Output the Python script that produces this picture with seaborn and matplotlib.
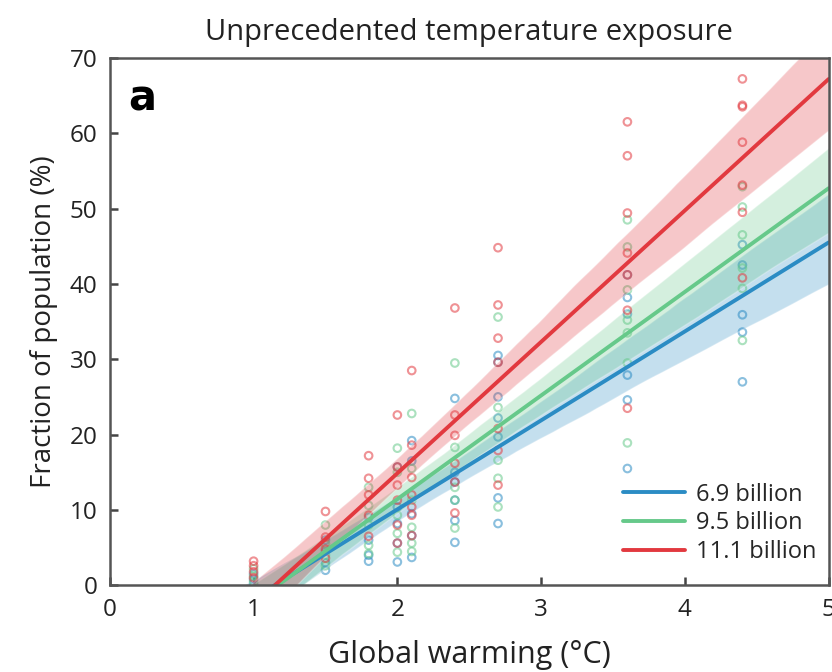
import numpy as np
import pandas as pd
import seaborn as sns
import matplotlib.pyplot as plt
from matplotlib.collections import PolyCollection

# warming levels (deg C) and fraction of population (%)
warming = [1.0, 1.5, 1.8, 2.0, 2.1, 2.4, 2.7, 3.6, 4.4]

pop_69 = [  # 6.9 billion
    [1.5, 0.8, 0.2],
    [6.0, 4.5, 3.0, 2.0],
    [9.0, 6.0, 4.0, 3.2],
    [15.7, 10.4, 8.2, 5.6, 3.1],
    [19.2, 16.5, 9.5, 6.6, 3.7],
    [24.8, 15.0, 13.7, 11.3, 8.6, 5.7],
    [30.5, 29.6, 25.0, 22.2, 19.7, 11.6, 8.2],
    [41.2, 38.2, 36.0, 27.9, 24.6, 15.5],
    [45.2, 42.5, 35.9, 33.6, 27.0],
]
pop_95 = [  # 9.5 billion
    [2.2, 1.2, 0.5],
    [8.0, 5.5, 4.0, 2.6],
    [13.0, 10.6, 8.0, 5.3, 4.2],
    [18.2, 15.0, 9.3, 6.9, 4.4],
    [22.8, 15.5, 11.3, 7.7, 5.6, 4.5],
    [29.5, 18.3, 13.0, 11.3, 7.6],
    [35.6, 23.6, 16.6, 14.2, 10.4],
    [48.5, 44.9, 39.2, 35.2, 33.5, 29.5, 18.9],
    [52.9, 50.2, 46.5, 42.1, 39.4, 32.5],
]
pop_111 = [  # 11.1 billion
    [3.2, 2.6, 1.8, 1.0],
    [9.8, 6.4, 4.8, 3.6],
    [17.2, 14.2, 12.0, 9.3, 6.5],
    [22.6, 15.7, 13.3, 11.3, 8.0, 5.6],
    [28.5, 18.6, 14.3, 12.0, 10.4, 9.3, 6.6],
    [36.8, 22.6, 19.9, 16.2, 13.7, 9.6],
    [44.8, 37.2, 32.8, 29.6, 20.8, 17.9, 13.3],
    [61.5, 57.0, 49.4, 44.1, 41.2, 36.5, 23.5],
    [67.2, 63.7, 63.5, 58.8, 53.1, 49.5, 40.8],
]

labels = ['6.9 billion', '9.5 billion', '11.1 billion']
colors = ['#2b8cc4', '#66c98a', '#e2393f']

rows = []
for lab, grp in zip(labels, [pop_69, pop_95, pop_111]):
    for w, vals in zip(warming, grp):
        for v in vals:
            rows.append({'scenario': lab, 'warming': w, 'fraction': v})
df = pd.DataFrame(rows)

sns.set_style('ticks')
plt.rcParams['font.family'] = ['Open Sans', 'DejaVu Sans']

fig = plt.figure(figsize=(8.32, 6.72), dpi=100)
ax = fig.add_axes([0.132, 0.129, 0.864, 0.785])
ax.set_xlim(0, 5)
ax.set_ylim(0, 70)

for lab, col in zip(labels, colors):
    sub = df[df['scenario'] == lab]
    sns.regplot(data=sub, x='warming', y='fraction', ax=ax, color=col,
                truncate=False, ci=95, seed=0, n_boot=1000,
                scatter_kws=dict(facecolors='none', s=30, linewidths=1.5, alpha=0.55),
                line_kws=dict(lw=2.8, label=lab))

# stronger confidence bands than seaborn default
for coll in ax.collections:
    if isinstance(coll, PolyCollection):
        coll.set_alpha(0.28)

ax.set_xlim(0, 5)
ax.set_ylim(0, 70)
ax.set_xticks(range(0, 6))
ax.set_yticks(range(0, 71, 10))

for s in ax.spines.values():
    s.set_color('#555555')
    s.set_linewidth(1.8)

ax.tick_params(direction='in', length=6, width=1.8, color='#444444',
               labelsize=17.5, labelcolor='#222222', pad=9)

ax.set_xlabel('Global warming (°C)', fontsize=22, color='#222222', labelpad=13)
ax.set_ylabel('Fraction of population (%)', fontsize=20, color='#222222', labelpad=8)
ax.set_title('Unprecedented temperature exposure', fontsize=21, color='#222222', pad=13)

ax.text(0.026, 0.962, 'a', transform=ax.transAxes, fontsize=30, fontweight='heavy',
        va='top', ha='left', color='black', family=['DejaVu Sans'])

leg = ax.legend(loc='lower right', bbox_to_anchor=(1.013, 0.0), frameon=False,
                fontsize=17, handlelength=2.6, labelspacing=0.2,
                borderaxespad=0.5, handletextpad=0.5)

plt.savefig('out.png', dpi=100)
